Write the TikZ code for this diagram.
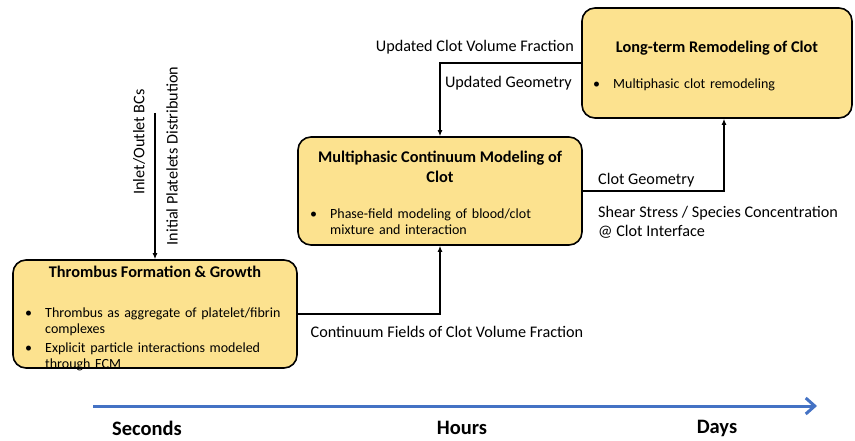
\documentclass[tikz,border=0pt]{standalone}
\usepackage{fontspec}
\setmainfont{Carlito}
\usepackage{tikz}
\usetikzlibrary{arrows.meta,positioning,calc}
\definecolor{boxfill}{RGB}{252,226,143}
\definecolor{axisblue}{RGB}{68,114,196}
\newcommand{\bitem}[1]{\par\hangindent=22pt\hangafter=1\noindent\hbox to 22pt{\hskip2pt\textbullet\hfil}#1\par}

\begin{document}
\begin{tikzpicture}[x=1pt,y=-1pt,
		stage/.style={draw, line width=1.6pt, rounded corners=13pt, fill=boxfill},
		boxtitle/.style={font=\fontsize{16.3}{20}\selectfont\bfseries, align=center, inner sep=0pt},
		boxbody/.style={font=\fontsize{14}{16}\selectfont, text width=#1, inner sep=0pt},
		flow/.style={->, line width=1.4pt, >={Latex[length=6pt,width=5pt]}},
		lbl/.style={font=\fontsize{16.2}{19}\selectfont, inner sep=0pt},
		timelbl/.style={font=\fontsize{20.5}{22}\selectfont\bfseries}]
	\useasboundingbox (0,0) rectangle (855,441);

	\node[stage, minimum width=284pt, minimum height=108pt] (T) at (155,314) {};
	\node[stage, minimum width=284pt, minimum height=108pt] (M) at (440,191) {};
	\node[stage, minimum width=270pt, minimum height=110pt] (L) at (717,63) {};

	\node[boxtitle] (Tt) at ($(T.north)+(0,13)$) {Thrombus Formation \& Growth};
	\node[boxbody=270pt, anchor=north west] (Tb) at (23,298) {\raggedright\setlength{\parskip}{3pt}%
		\bitem{Thrombus as aggregate of platelet/fibrin\newline complexes}
		\bitem{Explicit particle interactions modeled\newline through FCM}};

	\node[boxtitle] (Mt) at ($(M.north)+(0,31)$) {Multiphasic Continuum Modeling of\\Clot};
	\node[boxbody=265pt, anchor=north west] (Mb) at (308,202) {\raggedright
		\bitem{Phase-field modeling of blood/clot\newline mixture and interaction}};

	\node[boxtitle] (Lt) at ($(L.north)+(0,41)$) {Long-term Remodeling of Clot};
	\node[boxbody=250pt, anchor=north west] (Lb) at (591,72) {\raggedright
		\bitem{Multiphasic clot remodeling}};

	\coordinate (In) at (155,113);
	\draw[flow] (In) -- (T.north);
	\node[lbl, rotate=90] (A) at (139,142) {Inlet/Outlet BCs};
	\node[lbl, rotate=90] (B) at (172,156) {Initial Platelets Distribution};

	\draw[flow] (T.east) -| (M.south);
	\node[lbl] (C) at (447,332) {Continuum Fields of Clot Volume Fraction};

	\draw[flow] (L.west) -| (M.north);
	\node[lbl, anchor=east] (D) at (574,47) {Updated Clot Volume Fraction};
	\node[lbl, anchor=east] (E) at (572,83) {Updated Geometry};

	\draw[flow] (M.east) -| ([xshift=7pt]L.south);
	\node[lbl, anchor=west] (F) at (598,180) {Clot Geometry};
	\node[lbl, anchor=north west, align=left] (G) at (598,206) {Shear Stress / Species Concentration\\@ Clot Interface};

	\coordinate (S) at (93,406);
	\coordinate (X) at (817,406);
	\draw[axisblue, line width=3pt, -{Straight Barb[length=9pt,width=16pt]}] (S) -- (X);
	\node[timelbl] (H) at (147,428) {Seconds};
	\node[timelbl] (I) at (462,428) {Hours};
	\node[timelbl] (J) at (717,428) {Days};
\end{tikzpicture}
\end{document}
